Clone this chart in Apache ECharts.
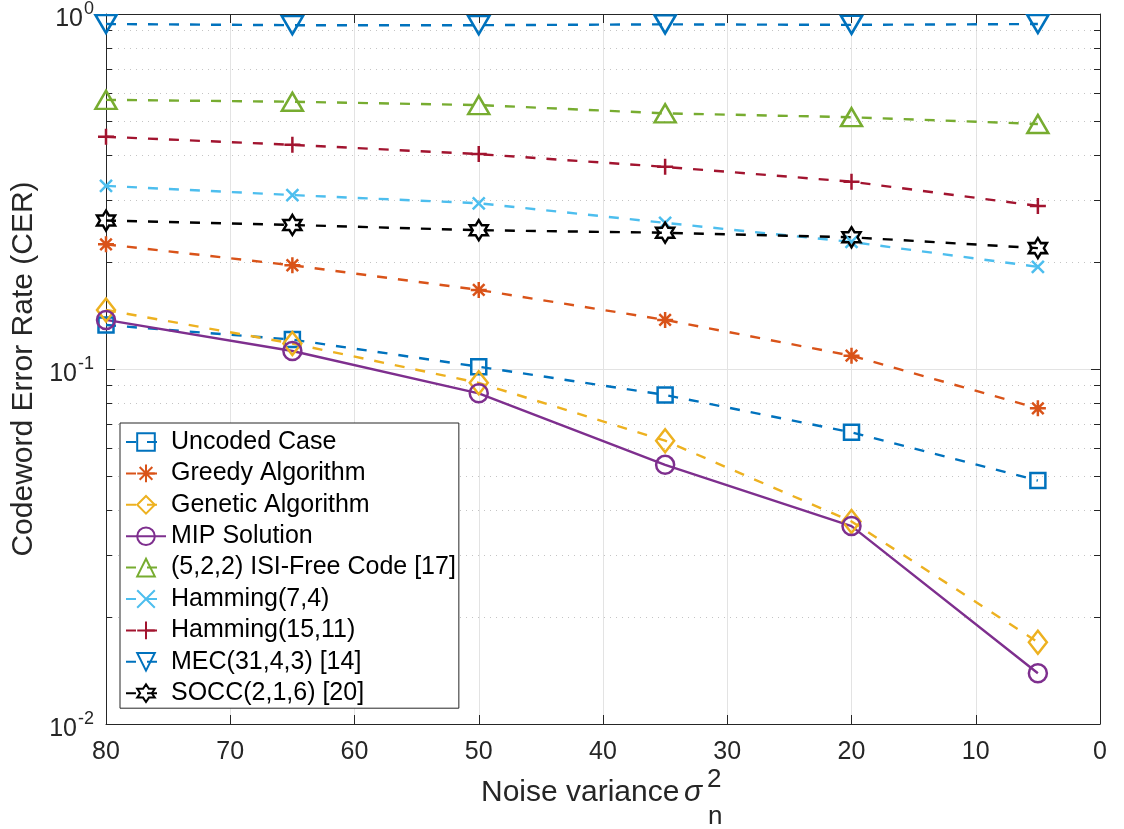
<!DOCTYPE html>
<html>
<head>
<meta charset="utf-8">
<title>Codeword Error Rate vs Noise Variance</title>
<script src="https://cdn.jsdelivr.net/npm/echarts@6/dist/echarts.min.js"></script>
<style>
  html, body { margin: 0; padding: 0; background: #fff; }
  #chart { width: 1124px; height: 829px; }
</style>
</head>
<body>
<div id="chart"></div>
<script>
// Noise variance values (x) and codeword error rates per scheme
const noiseVariance = [80, 65, 50, 35, 20, 5];
const uncoded   = [0.133, 0.121, 0.1015, 0.0845, 0.0663, 0.0485];
const greedy    = [0.2245, 0.196, 0.167, 0.1375, 0.109, 0.0775];
const genetic   = [0.1466, 0.118, 0.0914, 0.0628, 0.0372, 0.0170];
const mip       = [0.1375, 0.1124, 0.0854, 0.0537, 0.0361, 0.0139];
const isiFree   = [0.573, 0.566, 0.554, 0.525, 0.512, 0.49];
const hamming74 = [0.328, 0.309, 0.293, 0.258, 0.228, 0.194];
const hamming1511 = [0.451, 0.428, 0.403, 0.371, 0.337, 0.288];
const mec       = [0.937, 0.93, 0.93, 0.935, 0.932, 0.937];
const socc      = [0.262, 0.2545, 0.246, 0.242, 0.235, 0.219];

const seriesNames = [
  'Uncoded Case', 'Greedy Algorithm', 'Genetic Algorithm', 'MIP Solution',
  '(5,2,2) ISI-Free Code [17]', 'Hamming(7,4)', 'Hamming(15,11)',
  'MEC(31,4,3) [14]', 'SOCC(2,1,6) [20]'
];

// Minor decade positions for the dotted log grid
const minorGridValues = [0.02, 0.03, 0.04, 0.05, 0.06, 0.07, 0.08, 0.09,
                         0.2, 0.3, 0.4, 0.5, 0.6, 0.7, 0.8, 0.9];

const FONT = '"Liberation Sans", Arial, Helvetica, sans-serif';
const AXIS_COLOR = '#262626';

// Marker outlines
function hexagramPath() {
  let d = '';
  for (let k = 0; k < 12; k++) {
    const r = (k % 2 === 0) ? 1 : 0.5774;
    const a = (-90 + k * 30) * Math.PI / 180;
    d += (k === 0 ? 'M' : 'L') + (r * Math.cos(a)).toFixed(4) + ',' + (r * Math.sin(a)).toFixed(4);
  }
  return 'path://' + d + 'Z';
}
const SYM = {
  asterisk: 'path://M0,-1L0,1M-1,0L1,0M-0.72,-0.72L0.72,0.72M-0.72,0.72L0.72,-0.72',
  cross: 'path://M-1,-1L1,1M-1,1L1,-1',
  plus: 'path://M0,-1L0,1M-1,0L1,0',
  hexagram: hexagramPath()
};

const DASH = [10, 11];
const LINE_W = 2.4;

function makeSeries(name, values, color, symbol, size, opts) {
  opts = opts || {};
  return {
    name: name,
    type: 'line',
    data: noiseVariance.map((x, i) => [x, values[i]]),
    symbol: symbol,
    symbolSize: size,
    symbolRotate: opts.rotate || 0,
    showAllSymbol: true,
    z: 5,
    lineStyle: { color: color, width: LINE_W, type: opts.solid ? 'solid' : DASH },
    itemStyle: { color: 'rgba(0,0,0,0)', borderColor: color, borderWidth: 2.5 },
    emphasis: { disabled: true }
  };
}

const chart = echarts.init(document.getElementById('chart'), null, { renderer: 'canvas' });

const option = {
  animation: false,
  backgroundColor: '#ffffff',
  textStyle: { fontFamily: FONT },
  grid: { left: 106, right: 24, top: 14, bottom: 105, outerBoundsMode: 'none', containLabel: false },
  xAxis: [
    {
      type: 'value', min: 0, max: 80, interval: 10, inverse: true, position: 'bottom',
      axisLine: { onZero: false, lineStyle: { color: AXIS_COLOR, width: 1 } },
      axisTick: { inside: true, length: 9, lineStyle: { color: AXIS_COLOR } },
      axisLabel: { fontSize: 25, color: AXIS_COLOR, margin: 16, fontFamily: FONT },
      splitLine: { show: true, lineStyle: { color: '#e3e3e3', width: 1 } }
    },
    {
      type: 'value', min: 0, max: 80, interval: 10, inverse: true, position: 'top',
      axisLine: { onZero: false, lineStyle: { color: AXIS_COLOR, width: 1 } },
      axisTick: { inside: true, length: 9, lineStyle: { color: AXIS_COLOR } },
      axisLabel: { show: false },
      splitLine: { show: false }
    }
  ],
  yAxis: [
    {
      type: 'log', logBase: 10, min: 0.01, max: 1, position: 'left',
      axisLine: { onZero: false, lineStyle: { color: AXIS_COLOR, width: 1 } },
      axisTick: { inside: true, length: 9, lineStyle: { color: AXIS_COLOR } },
      axisLabel: {
        margin: 12,
        formatter: function (v) {
          const e = Math.round(Math.log10(v));
          return '{b|10}{e|' + e + '}';
        },
        rich: {
          b: { fontSize: 25, color: AXIS_COLOR, fontFamily: FONT, verticalAlign: 'bottom', padding: [10, 0, 0, 0] },
          e: { fontSize: 18, color: AXIS_COLOR, fontFamily: FONT, verticalAlign: 'top', padding: [4, 0, 0, 1] }
        }
      },
      splitLine: { show: true, lineStyle: { color: '#e3e3e3', width: 1 } },
      name: 'Codeword Error Rate (CER)',
      nameLocation: 'middle',
      nameGap: 64,
      nameTextStyle: { fontSize: 30, color: AXIS_COLOR, fontFamily: FONT }
    },
    {
      type: 'log', logBase: 10, min: 0.01, max: 1, position: 'right',
      axisLine: { onZero: false, lineStyle: { color: AXIS_COLOR, width: 1 } },
      axisTick: { inside: true, length: 9, lineStyle: { color: AXIS_COLOR } },
      axisLabel: { show: false },
      splitLine: { show: false }
    }
  ],
  legend: {
    data: seriesNames,
    orient: 'vertical',
    left: 120,
    top: 423,
    backgroundColor: '#ffffff',
    borderColor: AXIS_COLOR,
    borderWidth: 1,
    borderRadius: 0,
    padding: [6, 3, 2, 5],
    itemGap: 5.4,
    itemWidth: 40,
    itemHeight: 22,
    selectedMode: false,
    textStyle: { fontSize: 25, color: '#000000', fontFamily: FONT, lineHeight: 26 },
    z: 20
  },
  graphic: [
    {
      type: 'group',
      silent: true,
      children: [
        { type: 'text', left: 481, top: 778, style: { text: 'Noise variance', font: '30px ' + FONT, fill: AXIS_COLOR } },
        { type: 'text', left: 684, top: 778, style: { text: 'σ', font: 'italic 30px ' + FONT, fill: AXIS_COLOR } },
        { type: 'text', left: 707, top: 767, style: { text: '2', font: '26px ' + FONT, fill: AXIS_COLOR } },
        { type: 'text', left: 708, top: 804, style: { text: 'n', font: '26px ' + FONT, fill: AXIS_COLOR } }
      ]
    }
  ],
  series: [
    {
      name: 'minor-grid',
      type: 'custom',
      silent: true,
      z: 1,
      data: minorGridValues.map(v => [80, v]),
      renderItem: function (params, api) {
        const v = api.value(1);
        const pL = api.coord([80, v]);
        const pR = api.coord([0, v]);
        const y = Math.round(pL[1]) + 0.5;
        return {
          type: 'group',
          children: [
            { type: 'line', shape: { x1: pL[0], y1: y, x2: pR[0], y2: y },
              style: { stroke: '#c4c4c4', lineWidth: 1, lineDash: [1, 5] } },
            { type: 'line', shape: { x1: pL[0], y1: y, x2: pL[0] + 6, y2: y },
              style: { stroke: AXIS_COLOR, lineWidth: 1 } },
            { type: 'line', shape: { x1: pR[0] - 6, y1: y, x2: pR[0], y2: y },
              style: { stroke: AXIS_COLOR, lineWidth: 1 } }
          ]
        };
      }
    },
    makeSeries(seriesNames[0], uncoded, '#0072BD', 'rect', 15),
    makeSeries(seriesNames[1], greedy, '#D95319', SYM.asterisk, 16),
    makeSeries(seriesNames[2], genetic, '#EDB120', 'diamond', [18, 23]),
    makeSeries(seriesNames[3], mip, '#7E2F8E', 'circle', 18, { solid: true }),
    makeSeries(seriesNames[4], isiFree, '#77AC30', 'triangle', [21, 18]),
    makeSeries(seriesNames[5], hamming74, '#4DBEEE', SYM.cross, 12),
    makeSeries(seriesNames[6], hamming1511, '#A2142F', SYM.plus, 16),
    makeSeries(seriesNames[7], mec, '#0072BD', 'triangle', [21, 18], { rotate: 180 }),
    makeSeries(seriesNames[8], socc, '#000000', SYM.hexagram, [18, 20])
  ]
};

chart.setOption(option);
</script>
</body>
</html>
